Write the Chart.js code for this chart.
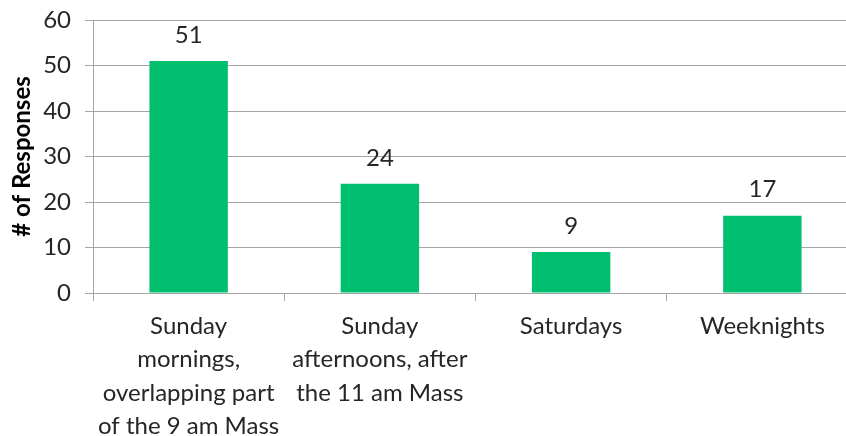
<!DOCTYPE html>
<html>
<head>
<meta charset="utf-8">
<script src="https://cdn.jsdelivr.net/npm/chart.js@4"></script>
<style>
  html, body { margin: 0; padding: 0; background: #fff; overflow: hidden; }
</style>
</head>
<body>
<canvas id="respuestas" width="858" height="436"></canvas>
<script>
// categorias y valores
const categorias = [
  ['Sunday', 'mornings,', 'overlapping part', 'of the 9 am Mass'],
  ['Sunday', 'afternoons, after', 'the 11 am Mass'],
  'Saturdays',
  'Weeknights'
];
const respuestas = [51, 24, 9, 17];
const yMax = 60;
const yPaso = 10;

const gris = '#a6a6a6';
const texto = '#262626';
const fuente = 'Lato, "Open Sans", sans-serif';

// etiquetas encima de cada barra
const etiquetas = {
  id: 'etiquetas',
  afterDatasetsDraw(chart) {
    const ctx = chart.ctx;
    const meta = chart.getDatasetMeta(0);
    ctx.save();
    ctx.font = '24px ' + fuente;
    ctx.fillStyle = texto;
    ctx.textAlign = 'center';
    ctx.textBaseline = 'middle';
    meta.data.forEach((bar, i) => {
      ctx.fillText(respuestas[i], bar.x, bar.y - 26);
    });
    ctx.restore();
  }
};

const ctx = document.getElementById('respuestas').getContext('2d');
new Chart(ctx, {
  type: 'bar',
  data: {
    labels: categorias,
    datasets: [{
      data: respuestas,
      backgroundColor: '#00bf6f',
      barPercentage: 0.41,
      categoryPercentage: 1
    }]
  },
  options: {
    responsive: false,
    animation: false,
    layout: { padding: { top: 20, right: 0, left: 0, bottom: 0 } },
    plugins: {
      legend: { display: false },
      tooltip: { enabled: false }
    },
    scales: {
      x: {
        grid: { offset: true, drawOnChartArea: false, color: gris, tickLength: 8 },
        border: { color: gris },
        ticks: {
          color: texto,
          font: { family: fuente, size: 24, lineHeight: 1.4 },
          padding: 8,
          maxRotation: 0,
          autoSkip: false
        },
        afterFit(scale) {
          scale.height = 143;
          scale.paddingLeft = 0;
          scale.paddingRight = 0;
        }
      },
      y: {
        min: 0,
        max: yMax,
        ticks: {
          stepSize: yPaso,
          color: texto,
          font: { family: fuente, size: 24 },
          padding: 14
        },
        grid: { color: gris, tickLength: 8 },
        border: { color: gris },
        title: {
          display: true,
          text: '# of Responses',
          color: '#000',
          font: { family: fuente, size: 24, weight: 'bold' },
          padding: { top: 8, bottom: 0 }
        },
        afterFit(scale) {
          scale.width = 93;
          scale.paddingTop = 0;
          scale.paddingBottom = 0;
        }
      }
    }
  },
  plugins: [etiquetas]
});
</script>
</body>
</html>
